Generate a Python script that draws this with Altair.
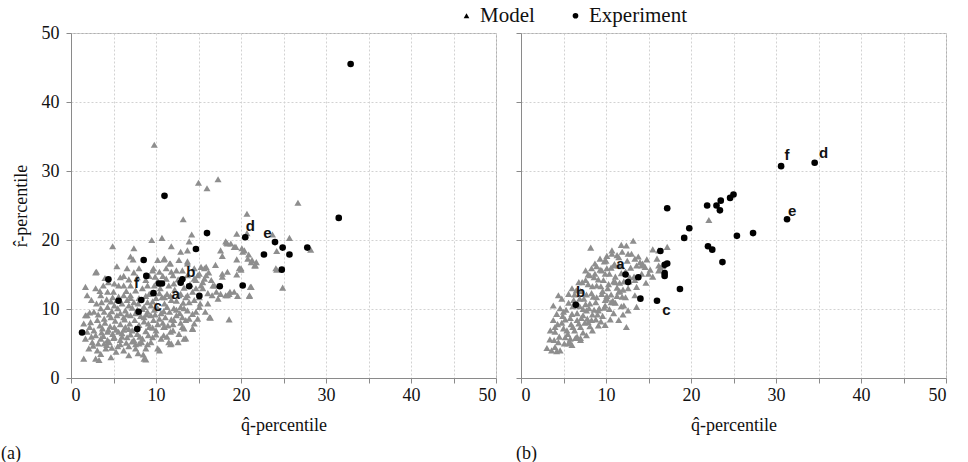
import altair as alt
import pandas as pd

# ---------------- data ----------------
# Panel (a): model points (q-hat, r-hat percentiles)
model_a = [
    (9.8,33.8),(15.0,28.3),(16.0,27.5),(17.3,28.8),(13.2,23.0),(14.2,20.8),(20.7,23.8),(26.7,25.4),
    (19.5,20.9),(20.7,21.0),(23.7,20.8),(25.7,20.3),(10.7,20.3),(9.5,20.0),(4.9,19.1),(2.9,15.3),
    (1.7,13.2),(1.9,9.1),(1.5,2.8),(8.8,2.7),(8.5,3.4),(11.7,4.9),(13.5,5.75),(14.3,7.1),(16.4,8.75),
    (18.6,8.5),(21.2,13.2),(21.0,11.9),(24.9,13.1),(28.2,18.6),(24.2,15.7),(21.8,16.8),(20.0,15.7),
    (19.5,17.2),(18.4,19.5),(19.4,19.0),(20.4,18.5),(18.6,12.2),(17.8,15.1),(17.6,18.5),(15.9,16.1),
    (7.4,18.8),(11.8,19.1),(13.9,19.8),(18.3,19.6),(20.1,18.8),(17.8,17.7),(20.9,17.9),(21.3,17.1),
    (21.7,16.3),(24.2,18.4),(24.1,15.9),(15.3,16.1),(15.7,15.9),(18.4,15.4),(19.8,15.9),(19.5,15.0),
    (17.8,14.7),(15.7,14.4),(14.9,14.9),(14.7,13.0),(16.9,13.4),(18.7,12.5),(19.6,11.9),(21.1,13.2),
    (18.2,12.0),(16.1,12.3),
    (12.9,18.3),(13.7,18.5),(7.0,17.6),(7.3,17.2),(10.2,17.1),(10.9,17.2),(11.7,16.6),(6.6,15.9),
    (8.0,15.9),(9.6,15.6),(3.0,15.4),(13.7,16.6),(14.5,15.9),(2.9,13.0),(3.8,13.4),(5.1,13.7),
    (5.6,13.4),(6.2,13.4),(7.0,13.4),(9.0,13.4),(9.8,13.4),(11.5,13.4),(12.1,13.7),(14.5,14.4),
    (15.3,13.4),(1.9,12.0),(3.5,12.0),(4.3,12.5),(4.9,11.7),(6.2,12.0),(7.0,12.0),(7.6,12.7),
    (9.2,12.2),(10.7,11.7),(11.3,12.2),(12.9,12.2),(13.7,12.0),(14.5,11.3),(15.2,10.8),(1.7,9.1),
    (2.7,9.6),(3.5,10.1),(4.3,10.3),(5.1,10.5),(6.0,10.8),(6.8,10.5),(7.4,11.0),(8.6,10.3),
    (9.4,10.5),(10.2,10.1),(11.3,10.3),(12.1,10.1),(12.9,10.3),(13.7,9.8),(14.7,9.6),(1.5,7.9),
    (2.3,8.1),(3.1,8.4),(3.9,8.6),(4.7,8.8),(5.4,9.1),(6.2,8.8),(7.0,9.1),(8.6,8.8),(9.4,9.1),
    (10.4,8.6),(11.1,8.8),(12.1,8.4),(13.1,8.8),(13.9,8.6),(14.5,7.9),(1.9,6.7),(2.7,6.9),
    (3.7,7.2),(4.3,6.7),(5.1,7.4),(5.6,6.7),(6.4,7.4),(7.2,6.9),(9.2,7.4),(10.0,6.9),(10.9,7.4),
    (11.7,6.7),(13.3,7.2),(1.7,5.7),(2.5,5.2),(3.5,5.7),(4.3,5.5),(5.1,5.9),(5.8,5.5),(6.6,5.9),
    (7.4,5.5),(8.4,5.7),(9.4,5.2),(10.6,5.7),(11.5,5.2),(2.1,4.3),(3.1,4.0),(4.1,4.3),(5.3,3.8),
    (6.2,4.0),(7.6,4.3),(8.8,4.3),(2.9,2.8),(3.3,2.6),(4.7,3.0),(8.6,2.8),
    (11.0,17.3),(11.6,16.6),(12.7,17.1),(13.7,16.9),(15.1,15.1),(15.9,14.9),(9.7,15.9),(10.4,15.4),
    (11.2,15.9),(11.8,15.4),(12.4,15.6),(13.7,14.9),(14.7,14.2),(15.5,13.9),(16.5,14.2),(16.7,13.4),
    (15.5,13.0),(14.3,12.5),(13.5,11.7),(12.7,12.0),(11.8,11.3),(11.0,11.7),(13.9,11.0),(15.1,11.7),
    (17.1,12.5),(17.6,12.2),(18.4,12.0),(19.2,12.5),(20.0,15.9),(18.2,19.8),(18.8,19.5),(19.2,19.0),
    (20.2,18.3),(20.8,17.3),(21.2,16.8),(21.6,16.3),(21.0,12.0),(16.1,10.8),(15.1,10.3),(16.3,8.8),
    (14.3,9.3),(13.3,10.1),(12.4,9.1),(13.5,8.4),(14.3,7.2),(13.1,7.4),(12.0,6.9),(11.0,7.4),
    (13.3,5.7),(11.8,5.0),(10.2,4.3),(10.4,4.0),
    (3.2,5.0),(3.8,6.1),(4.5,5.2),(4.9,6.4),(5.5,4.6),(6.0,6.0),(6.5,5.1),(7.0,6.3),(7.6,4.9),
    (8.1,6.0),(3.4,7.6),(4.0,8.0),(4.6,7.5),(5.2,8.3),(5.8,7.8),(6.3,8.5),(6.9,7.9),(7.5,8.4),
    (8.0,7.7),(8.6,8.2),(9.1,7.9),(9.7,8.4),(3.0,10.8),(3.9,9.6),(4.8,9.7),(5.5,10.1),(6.4,9.8),
    (7.2,10.2),(7.8,9.9),(8.4,10.0),(9.0,9.6),(9.8,9.9),(10.6,9.4),(11.6,9.6),(12.4,9.9),(4.2,11.4),
    (5.6,11.8),(6.6,11.3),(8.0,11.6),(8.8,11.9),(9.6,11.1),(10.4,12.3),(11.0,10.8),(12.4,11.2),
    (13.2,10.9),(6.8,14.3),(7.8,14.6),(9.2,14.8),(10.2,14.1),(11.2,14.4),(12.0,14.9),(5.4,16.2),
    (6.2,14.8),(4.4,13.9),(2.4,11.3),(2.2,7.4),(2.6,4.7),(3.5,3.5),(6.8,3.3),(7.9,3.6),(9.6,5.9),
    (10.9,6.2),(12.7,6.4),(10.8,8.0),(12.0,7.8),(5.0,5.8),(4.2,4.8),(6.2,7.0),(7.6,7.2),(8.3,5.2),
    (9.0,4.9),
    # additional fill of the dense core
    (3.6,6.6),(4.4,7.0),(5.3,7.0),(6.0,6.5),(6.8,7.1),(7.8,6.4),(8.8,6.8),(9.6,7.3),(4.8,4.4),
    (5.8,4.9),(6.8,4.6),(7.2,5.3),(8.0,5.0),(3.9,5.0),(2.9,6.2),(2.4,6.0),(2.2,9.5),(3.2,9.2),
    (4.5,9.2),(5.8,9.4),(6.6,9.2),(7.6,9.4),(8.2,9.0),(8.9,9.2),(9.9,9.2),(10.9,9.7),(11.8,8.5),
    (12.8,9.4),(3.6,11.0),(4.7,11.1),(5.4,11.3),(7.0,11.6),(7.9,10.8),(9.0,11.0),(10.0,11.6),
    (11.7,11.9),(12.2,12.8),(13.3,13.1),(10.5,13.0),(8.4,13.0),(6.5,12.6),(5.0,12.5),(3.4,12.6),
    (4.0,14.5),(5.8,14.6),(7.4,15.3),(8.8,14.2),(9.9,14.7),(10.8,14.8),(12.6,14.3),(13.1,15.6),
    (14.0,13.6),(16.2,15.3),(17.0,16.4),(16.6,12.0),(17.3,11.5),(15.8,9.6),(14.9,8.6),(12.6,5.2),
    (11.3,6.0),(10.0,6.3),(9.1,6.2),(10.2,7.8),(11.4,7.6),(12.9,8.0),
]
model_a_q = [p[0] for p in model_a]
model_a_r = [p[1] for p in model_a]

exp_a_q = [1.3, 4.4, 5.6, 8.55, 8.86, 8.27, 7.96, 7.8, 9.7, 10.35, 10.7, 12.9, 13.1, 13.9, 14.7,
           15.1, 17.5, 20.2, 16.0, 20.5, 22.7, 24.0, 24.9, 25.7, 24.8, 27.8, 11.0, 31.5, 32.9]
exp_a_r = [6.6, 14.3, 11.2, 17.1, 14.8, 11.3, 9.6, 7.1, 12.3, 13.7, 13.7, 13.8, 14.3, 13.3, 18.7,
           11.9, 13.3, 13.4, 21.0, 20.4, 17.9, 19.7, 18.9, 17.9, 15.7, 18.9, 26.4, 23.2, 45.5]

lab_a_text = ["d", "e", "f", "b", "a", "c"]
lab_a_q = [21.1, 23.1, 7.7, 14.1, 12.3, 10.2]
lab_a_r = [22.0, 21.0, 13.7, 15.3, 12.2, 10.5]

# Panel (b)
model_b = [
    (8.2,18.9),(13.2,19.9),(12.4,19.2),(11.8,19.3),(15.5,18.65),(16.2,18.5),(16.0,17.3),(16.2,16.3),
    (16.2,15.6),(10.7,18.5),(10.1,17.7),(9.3,17.3),(8.7,16.6),(8.3,15.9),(7.6,15.6),(11.5,17.5),
    (11.9,18.3),(12.6,18.0),(13.4,17.3),(14.0,16.8),(14.6,16.1),(13.6,16.3),(14.2,15.1),(13.4,14.2),
    (13.6,13.2),(13.4,12.0),(13.6,10.3),(12.6,9.8),(12.1,10.5),(11.5,8.4),(12.4,7.4),(10.1,11.5),
    (9.9,10.5),(9.1,9.8),(7.7,9.8),(7.9,8.1),(9.1,7.6),(7.7,6.2),(7.0,5.5),(5.8,5.7),(5.6,5.0),
    (4.4,5.2),(4.0,4.5),(3.6,4.0),(3.05,4.35),(4.2,3.9),(4.6,4.0),(3.45,6.9),(4.0,6.7),(3.8,8.4),
    (4.2,9.3),(4.6,10.1),(3.8,10.5),(4.8,11.5),(4.4,12.0),(5.6,12.2),(6.0,13.0),(6.8,13.9),(7.6,14.2),
    (8.1,14.9),(8.7,15.1),(9.5,15.6),(10.1,15.9),(10.9,16.3),(11.5,16.3),(12.3,15.4),(12.8,14.6),
    (11.1,13.9),(11.5,12.5),(12.3,11.7),(10.9,11.0),
    (22.1,22.9),(17.2,19.0),(16.7,16.2),(14.2,16.3),(15.0,15.1),(16.4,16.0),
    (4.5,6.0),(5.0,7.2),(5.5,6.4),(5.2,8.5),(5.9,7.8),(6.3,6.9),(6.0,9.3),(6.6,8.4),(7.0,7.4),
    (6.9,10.4),(7.3,9.1),(7.8,8.6),(7.4,11.5),(8.0,10.1),(8.4,9.2),(8.3,12.3),(8.8,11.0),(9.2,10.1),
    (8.9,13.4),(9.5,12.2),(9.9,11.3),(9.7,14.2),(10.2,13.0),(10.6,12.1),(10.4,15.1),(10.9,14.0),
    (11.3,13.1),(11.0,16.5),(11.8,15.2),(12.1,14.0),(12.5,17.0),(12.9,16.0),(13.3,14.7),(5.3,9.9),
    (6.2,11.3),(7.0,12.6),(7.9,13.6),(8.6,14.6),(9.3,15.7),(10.0,17.0),(6.4,5.8),(7.3,6.6),(8.1,7.5),
    (8.8,8.5),(9.6,9.0),(10.4,10.0),(11.1,10.9),(11.9,11.8),(12.6,13.0),(4.8,8.0),(5.7,5.3),(6.6,6.0),
    (7.6,10.7),(8.5,11.8),(9.4,13.3),(10.8,11.2),(11.6,12.6),(12.3,15.4),(13.0,18.0),(13.8,17.6),
    (14.3,16.6),(14.8,17.2),(4.9,9.0),(4.0,7.4),(3.4,5.6),(5.1,5.0),(9.9,7.7),(10.5,8.5),(12.0,9.2),
    (7.2,13.9),(6.5,12.7),(8.9,16.2),(9.8,16.9),(10.7,18.0),(11.3,17.8),(15.2,15.7),(14.7,13.8),
    (15.5,14.7),
    # additional fill of the dense core
    (5.4,6.9),(6.1,7.4),(6.8,7.9),(7.5,8.0),(8.3,8.4),(9.0,9.2),(9.8,10.2),(10.6,11.0),(11.3,11.9),
    (12.0,12.8),(12.7,14.0),(5.8,8.7),(6.6,9.4),(7.3,10.0),(8.1,10.8),(8.9,11.7),(9.6,12.6),(10.3,13.6),
    (11.1,14.7),(11.8,16.2),(6.1,10.4),(6.9,11.5),(7.7,12.1),(8.4,13.3),(9.1,14.3),(9.9,15.1),
    (10.6,16.0),(7.1,8.7),(8.6,9.9),(10.1,11.9),(11.6,13.8),(4.3,7.8),(5.0,9.6),(5.6,10.9),(6.3,12.1),
    (7.9,15.0),(7.0,5.8),(8.4,6.9),(9.4,8.2),(10.9,9.4),(11.8,10.4),(6.0,4.8),(5.2,5.9),(3.9,5.5),
]
model_b_q = [p[0] for p in model_b]
model_b_r = [p[1] for p in model_b]

exp_b_q = [30.6, 34.55, 31.3, 17.2, 21.9, 23.0, 23.5, 23.4, 24.6, 25.0, 19.8, 19.2, 25.4, 27.3, 22.0,
           22.5, 23.7, 16.4, 16.9, 17.2, 16.9, 16.9, 18.7, 16.0, 14.05, 13.8, 12.6, 12.3, 6.45]
exp_b_r = [30.7, 31.2, 23.0, 24.6, 25.0, 25.0, 25.7, 24.3, 26.1, 26.6, 21.7, 20.3, 20.6, 21.0, 19.1,
           18.6, 16.8, 18.4, 16.4, 16.6, 15.2, 14.8, 12.9, 11.2, 11.5, 14.6, 13.9, 15.0, 10.6]

lab_b_text = ["f", "d", "e", "a", "b", "c"]
lab_b_q = [31.3, 35.6, 31.9, 11.7, 7.0, 17.1]
lab_b_r = [32.3, 32.6, 24.2, 16.5, 12.4, 9.8]

tick_values = [0, 5, 10, 15, 20, 25, 30, 35, 40, 45, 50]

# ---------------- chart ----------------
SERIF = "Liberation Serif"
DOMAIN = ["Model", "Experiment"]


def points_df(mq, mr, eq, er):
    d1 = pd.DataFrame({"q": mq, "r": mr, "series": "Model"})
    d2 = pd.DataFrame({"q": eq, "r": er, "series": "Experiment"})
    return pd.concat([d1, d2], ignore_index=True)


def make_panel(mq, mr, eq, er, lt, lq, lr, show_y, panel_label, title_dx):
    df = points_df(mq, mr, eq, er)
    labels = pd.DataFrame({"q": lq, "r": lr, "t": lt})
    xaxis = alt.Axis(values=tick_values, labelExpr="datum.value % 10 == 0 ? datum.label : ''",
                     title="q̂-percentile", grid=True, titlePadding=12)
    if show_y:
        yaxis = alt.Axis(values=tick_values, labelExpr="datum.value % 10 == 0 ? datum.label : ''",
                         title="r̂-percentile", grid=True, labelPadding=7, titlePadding=11)
        shape_legend = alt.Legend(title=None, orient="none", direction="horizontal",
                                  legendX=385, legendY=-28, labelFont=SERIF,
                                  labelFontSize=21, symbolSize=32, columnPadding=30,
                                  labelOffset=3, labelColor="#111111")
    else:
        yaxis = alt.Axis(values=tick_values, labels=False, title="", grid=True)
        shape_legend = None
    xs = alt.Scale(domain=[0, 50], nice=False)
    ys = alt.Scale(domain=[0, 50], nice=False)
    shape_kw = {"scale": alt.Scale(domain=DOMAIN, range=["triangle-up", "circle"])}
    shape_kw["legend"] = shape_legend
    pts = alt.Chart(df).mark_point(filled=True, opacity=1, strokeWidth=0).encode(
        x=alt.X("q:Q", scale=xs, axis=xaxis),
        y=alt.Y("r:Q", scale=ys, axis=yaxis),
        shape=alt.Shape("series:N", **shape_kw),
        color=alt.Color("series:N",
                        scale=alt.Scale(domain=DOMAIN, range=["#8e8e8e", "#000000"]),
                        legend=None),
        size=alt.Size("series:N", scale=alt.Scale(domain=DOMAIN, range=[50, 44]), legend=None),
        order=alt.Order("series:N", sort="descending"),
    )
    txt = alt.Chart(labels).mark_text(font="Liberation Sans", fontWeight="bold", fontSize=15,
                                      color="#111111", align="center", baseline="middle").encode(
        x=alt.X("q:Q", scale=xs), y=alt.Y("r:Q", scale=ys), text="t:N")
    return alt.layer(pts, txt).properties(
        width=425, height=345,
        title=alt.TitleParams(panel_label, orient="bottom", anchor="start", frame="group",
                              font=SERIF, fontSize=18, fontWeight="normal", dx=title_dx,
                              offset=11, color="#111111"),
    )


left = make_panel(model_a_q, model_a_r, exp_a_q, exp_a_r, lab_a_text, lab_a_q, lab_a_r, True, "(a)", -70)
right = make_panel(model_b_q, model_b_r, exp_b_q, exp_b_r, lab_b_text, lab_b_q, lab_b_r, False, "(b)", -5)

chart = alt.hconcat(left, right, spacing=25, bounds="flush").resolve_scale(
    shape="shared", color="shared", size="shared"
).resolve_legend(shape="independent").properties(
    background="white", padding={"left": 0, "top": 4, "right": 2, "bottom": 0}
).configure_view(stroke="#b0b0b0", strokeWidth=1).configure_axis(
    gridColor="#d2d2d2", gridDash=[2, 2], gridWidth=1,
    domainColor="#8a8a8a", tickColor="#8a8a8a", tickSize=5,
    labelFont=SERIF, labelFontSize=18, labelColor="#111111", labelPadding=3,
    titleFont=SERIF, titleFontSize=18, titleFontWeight="normal", titleColor="#111111",
)

chart.save("out.html", embed_options={"renderer": "svg", "actions": False})
